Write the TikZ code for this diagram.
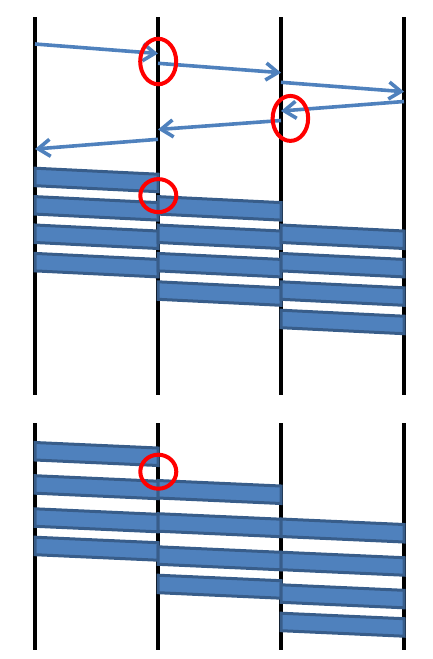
\documentclass[tikz,border=0pt]{standalone}
\usepackage{tikz}
\usetikzlibrary{arrows.meta,shapes}
\definecolor{officeblue}{HTML}{4F81BD}
\definecolor{edgeblue}{HTML}{385D8A}
\tikzstyle{host} = [black, line width=3.6pt]
\tikzstyle{msg} = [draw=officeblue, line width=3.6pt,
    -{Straight Barb[length=12pt,width=17pt]}]
\tikzstyle{packet} = [fill=officeblue, draw=edgeblue, line width=3pt]
\tikzstyle{ring} = [draw=red, ellipse, line width=4pt, inner sep=0pt]
\newcommand{\pkt}[3]{\draw[packet] (#1,#2) -- ++(123,#3) -- ++(0,17.5) -- ++(-123,-#3) -- cycle;}

\begin{document}
\begin{tikzpicture}[x=1pt, y=-1pt]
  \useasboundingbox (0,0) rectangle (432,659);
  % Hosts, upper part
  \draw[host] (35,17) -- (35,395);
  \draw[host] (158,17) -- (158,395);
  \draw[host] (281,17) -- (281,395);
  \draw[host] (404,17) -- (404,395);
  % Hosts, lower part
  \draw[host] (35,423) -- (35,650);
  \draw[host] (158,423) -- (158,650);
  \draw[host] (281,423) -- (281,650);
  \draw[host] (404,423) -- (404,650);

  % Place message ends
  \coordinate (s1) at (35,44);    \coordinate (r1) at (158,53.5);
  \coordinate (s2) at (158,63.3); \coordinate (r2) at (281,72.7);
  \coordinate (s3) at (281,82.3); \coordinate (r3) at (404,91.7);
  \coordinate (s4) at (404,101.5); \coordinate (r4) at (281,111);
  \coordinate (s5) at (281,120.5); \coordinate (r5) at (158,129.5);
  \coordinate (s6) at (158,139.3); \coordinate (r6) at (35,149);
  \draw[msg] (s1) -- (r1);
  \draw[msg] (s2) -- (r2);
  \draw[msg] (s3) -- (r3);
  \draw[msg] (s4) -- (r4);
  \draw[msg] (s5) -- (r5);
  \draw[msg] (s6) -- (r6);

  % Packets, upper part
  \pkt{35}{168.2}{6}   \pkt{35}{196.6}{6} \pkt{35}{225}{6} \pkt{35}{253.4}{6}
  \pkt{158}{196.6}{6} \pkt{158}{225}{6} \pkt{158}{253.4}{6} \pkt{158}{281.8}{6}
  \pkt{281}{225}{6} \pkt{281}{253.4}{6} \pkt{281}{281.8}{6} \pkt{281}{310.2}{6}
  % Packets, lower part
  \pkt{35}{442.5}{5.5} \pkt{35}{475.7}{5.5} \pkt{35}{508.8}{5.5} \pkt{35}{537.2}{5.5}
  \pkt{158}{480.5}{5.5} \pkt{158}{513.7}{5.5} \pkt{158}{546.8}{5.5} \pkt{158}{575.2}{5.5}
  \pkt{281}{519}{5.5} \pkt{281}{552.2}{5.5} \pkt{281}{584.8}{5.5} \pkt{281}{613.2}{5.5}

  % Marks
  \node [ring, minimum width=36pt, minimum height=45.5pt] (g1) at (158.2,61.5) {};
  \node [ring, minimum width=35.5pt, minimum height=45pt] (g2) at (290.4,118.4) {};
  \node [ring, minimum width=36pt, minimum height=33pt] (g3) at (158.3,195.6) {};
  \node [ring, minimum width=36pt, minimum height=34pt] (g4) at (158.3,471.7) {};
\end{tikzpicture}
\end{document}
